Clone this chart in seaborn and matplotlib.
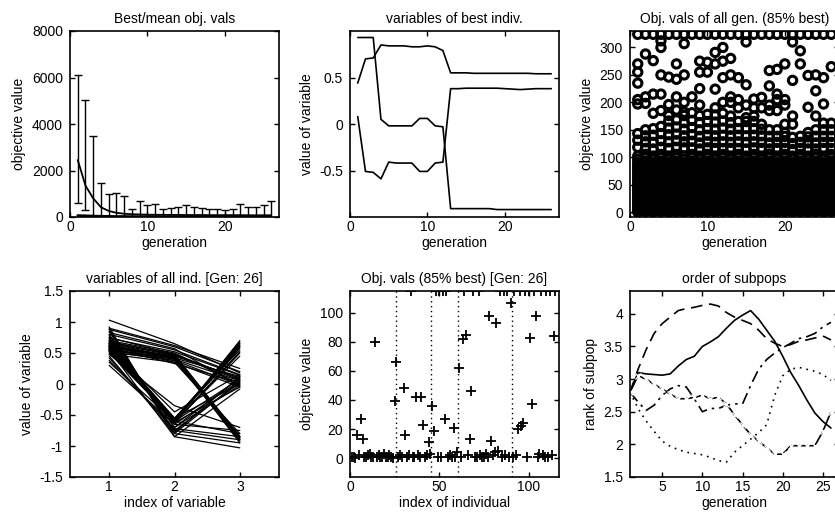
import matplotlib
matplotlib.use("Agg")
import matplotlib.pyplot as plt
import numpy as np
import pandas as pd
import seaborn as sns

# ---------------- data ----------------
generations = list(range(1, 27))

# Best/mean obj. vals
mean_obj = [2450, 1350, 800, 420, 260, 180, 140, 120, 110, 100, 95, 95, 90, 90, 85, 85, 85, 80, 80, 80, 80, 80, 75, 75, 75, 75]
best_obj = [60, 50, 40, 30, 25, 20, 20, 15, 15, 15, 15, 12, 12, 12, 10, 10, 10, 10, 10, 8, 8, 8, 8, 8, 8, 8]
err_top = [6100, 5050, 3500, 1450, 1000, 1050, 900, 350, 700, 500, 550, 350, 400, 450, 500, 450, 400, 350, 350, 300, 350, 550, 450, 450, 500, 700]
err_bottom = [600, 300, -900, -600, -500, -700, -600, -100, -500, -300, -350, -150, -200, -250, -300, -250, -200, -150, -150, -100, -150, -350, -250, -250, -300, -500]

# variables of best indiv.
best_var1 = [0.93, 0.93, 0.93, 0.05, -0.02, -0.02, -0.02, -0.02, 0.06, 0.06, -0.02, -0.03, -0.91, -0.91, -0.91, -0.91, -0.91, -0.91, -0.92, -0.92, -0.92, -0.92, -0.92, -0.92, -0.92, -0.92]
best_var2 = [0.44, 0.70, 0.71, 0.85, 0.84, 0.84, 0.84, 0.83, 0.83, 0.84, 0.83, 0.79, 0.55, 0.55, 0.55, 0.545, 0.545, 0.545, 0.545, 0.545, 0.545, 0.545, 0.545, 0.54, 0.54, 0.54]
best_var3 = [0.08, -0.51, -0.52, -0.59, -0.41, -0.42, -0.42, -0.42, -0.51, -0.51, -0.42, -0.41, 0.38, 0.38, 0.385, 0.385, 0.385, 0.385, 0.385, 0.38, 0.375, 0.37, 0.375, 0.38, 0.38, 0.38]

# Obj. vals of all gen. (85% best) - one list per generation
objv_all_gen = [
    [0, 3, 7, 11, 15, 19, 23, 27, 31, 35, 40, 44, 48, 52, 57, 61, 66, 70, 75, 80, 85, 90, 96, 102, 118, 131, 143, 197, 205, 235, 255, 270, 324],
    [1, 5, 9, 13, 17, 21, 25, 29, 33, 38, 42, 46, 50, 55, 59, 64, 68, 73, 78, 83, 88, 93, 99, 105, 116, 128, 139, 150, 198, 210, 288, 324],
    [0, 3, 7, 11, 15, 19, 23, 27, 31, 35, 40, 44, 48, 52, 57, 61, 66, 70, 75, 80, 85, 90, 96, 102, 115, 127, 140, 152, 180, 215, 276, 324],
    [1, 5, 9, 13, 17, 21, 25, 29, 33, 38, 42, 46, 50, 55, 59, 64, 68, 73, 78, 83, 88, 93, 99, 105, 118, 130, 143, 156, 185, 215, 250, 300, 312, 324],
    [0, 3, 7, 11, 15, 19, 23, 27, 31, 35, 40, 44, 48, 52, 57, 61, 66, 70, 75, 80, 85, 90, 96, 102, 116, 128, 141, 153, 166, 176, 196, 246, 324],
    [1, 5, 9, 13, 17, 21, 25, 29, 33, 38, 42, 46, 50, 55, 59, 64, 68, 73, 78, 83, 88, 93, 99, 105, 118, 130, 142, 155, 168, 186, 210, 242, 270, 324],
    [0, 3, 7, 11, 15, 19, 23, 27, 31, 35, 40, 44, 48, 52, 57, 61, 66, 70, 75, 80, 85, 90, 96, 102, 117, 128, 139, 151, 163, 176, 182, 200, 250, 307, 324],
    [1, 5, 9, 13, 17, 21, 25, 29, 33, 38, 42, 46, 50, 55, 59, 64, 68, 73, 78, 83, 88, 93, 99, 105, 117, 129, 141, 154, 167, 181, 210, 324],
    [0, 3, 7, 11, 15, 19, 23, 27, 31, 35, 40, 44, 48, 52, 57, 61, 66, 70, 75, 80, 85, 90, 96, 102, 115, 126, 138, 150, 163, 176, 195, 225, 255, 275, 324],
    [1, 5, 9, 13, 17, 21, 25, 29, 33, 38, 42, 46, 50, 55, 59, 64, 68, 73, 78, 83, 88, 93, 99, 105, 117, 128, 140, 152, 165, 178, 255, 273, 324],
    [0, 3, 7, 11, 15, 19, 23, 27, 31, 35, 40, 44, 48, 52, 57, 61, 66, 70, 75, 80, 85, 90, 96, 102, 116, 127, 139, 151, 164, 177, 190, 224, 270, 291, 324],
    [1, 5, 9, 13, 17, 21, 25, 29, 33, 38, 42, 46, 50, 55, 59, 64, 68, 73, 78, 83, 88, 93, 99, 105, 116, 128, 140, 153, 166, 180, 200, 245, 275, 300, 324],
    [0, 3, 7, 11, 15, 19, 23, 27, 31, 35, 40, 44, 48, 52, 57, 61, 66, 70, 75, 80, 85, 90, 96, 102, 116, 127, 139, 151, 163, 175, 200, 210, 250, 280, 324],
    [1, 5, 9, 13, 17, 21, 25, 29, 33, 38, 42, 46, 50, 55, 59, 64, 68, 73, 78, 83, 88, 93, 99, 105, 116, 128, 140, 152, 165, 190, 205, 245, 324],
    [0, 3, 7, 11, 15, 19, 23, 27, 31, 35, 40, 44, 48, 52, 57, 61, 66, 70, 75, 80, 85, 90, 96, 102, 115, 127, 139, 152, 165, 172, 195, 232, 310, 324],
    [1, 5, 9, 13, 17, 21, 25, 29, 33, 38, 42, 46, 50, 55, 59, 64, 68, 73, 78, 83, 88, 93, 99, 105, 117, 128, 140, 152, 165, 175, 190, 206, 324],
    [0, 3, 7, 11, 15, 19, 23, 27, 31, 35, 40, 44, 48, 52, 57, 61, 66, 70, 75, 80, 85, 90, 96, 102, 116, 127, 139, 151, 160, 190, 209, 324],
    [1, 5, 9, 13, 17, 21, 25, 29, 33, 38, 42, 46, 50, 55, 59, 64, 68, 73, 78, 83, 88, 93, 99, 105, 115, 126, 138, 150, 185, 195, 230, 258, 324],
    [0, 3, 7, 11, 15, 19, 23, 27, 31, 35, 40, 44, 48, 52, 57, 61, 66, 70, 75, 80, 85, 90, 96, 102, 116, 127, 138, 150, 185, 205, 215, 260, 324],
    [1, 5, 9, 13, 17, 21, 25, 29, 33, 38, 42, 46, 50, 55, 59, 64, 68, 73, 78, 83, 88, 93, 99, 105, 116, 127, 138, 145, 160, 195, 205, 270, 324],
    [0, 3, 7, 11, 15, 19, 23, 27, 31, 35, 40, 44, 48, 52, 57, 61, 66, 70, 75, 80, 85, 90, 96, 102, 114, 125, 136, 160, 175, 240, 310, 324],
    [1, 5, 9, 13, 17, 21, 25, 29, 33, 38, 42, 46, 50, 55, 59, 64, 68, 73, 78, 83, 88, 93, 99, 105, 116, 127, 138, 270, 294, 324],
    [0, 3, 7, 11, 15, 19, 23, 27, 31, 35, 40, 44, 48, 52, 57, 61, 66, 70, 75, 80, 85, 90, 96, 102, 115, 126, 137, 145, 191, 249, 324],
    [1, 5, 9, 13, 17, 21, 25, 29, 33, 38, 42, 46, 50, 55, 59, 64, 68, 73, 78, 83, 88, 93, 99, 105, 115, 126, 138, 150, 175, 221, 250, 324],
    [0, 3, 7, 11, 15, 19, 23, 27, 31, 35, 40, 44, 48, 52, 57, 61, 66, 70, 75, 80, 85, 90, 96, 102, 116, 127, 138, 150, 162, 197, 245, 324],
    [1, 5, 9, 13, 17, 21, 25, 29, 33, 38, 42, 46, 50, 55, 59, 64, 68, 73, 78, 83, 88, 93, 99, 105, 116, 127, 138, 150, 162, 265, 324],
]

# variables of all ind. [Gen: 26]
var_index = [1, 2, 3]
ind_var1 = [0.55, 0.62, 0.70, 0.80, 0.88, 0.48, 0.66, 0.75, 0.58, 0.90, 1.03, 0.52, 0.68, 0.74, 0.83,
            0.50, 0.55, 0.58, 0.60, 0.62, 0.65, 0.54, 0.57, 0.52, 0.56, 0.59, 0.61, 0.63,
            0.65, 0.72, 0.80, 0.88, 0.60, 0.75, 0.92, 0.70, 0.78, 0.85, 0.66,
            0.52, 0.56, 0.60, 0.64, 0.68, 0.58, 0.62, 0.54, 0.60, 0.66,
            0.30, 0.38, 0.45, 0.55, 0.35, 0.42, 0.48]
ind_var2 = [0.40, 0.45, 0.50, 0.55, 0.60, 0.35, 0.42, 0.48, 0.33, 0.62, 0.65, 0.38, 0.47, 0.52, 0.57,
            -0.58, -0.60, -0.62, -0.55, -0.60, -0.63, -0.57, -0.61, -0.59, -0.61, -0.56, -0.62, -0.58,
            -0.55, -0.62, -0.70, -0.80, -0.45, -0.75, -0.85, -0.65, -0.70, -0.78, -0.60,
            0.38, 0.42, 0.45, 0.40, 0.48, 0.44, 0.35, 0.41, 0.43, 0.46,
            -0.65, -0.72, -0.80, -0.85, -0.60, -0.75, -0.35]
ind_var3 = [0.05, 0.10, 0.00, 0.15, 0.20, -0.05, 0.12, 0.08, 0.02, 0.25, 0.18, -0.02, 0.06, 0.14, -0.04,
            0.60, 0.65, 0.70, 0.55, 0.68, 0.50, 0.62, 0.45, 0.58, 0.66, 0.63, 0.52, 0.60,
            0.00, -0.05, 0.10, 0.05, 0.15, 0.02, -0.08, 0.05, -0.02, 0.12, 0.08,
            -0.85, -0.88, -0.90, -0.92, -0.86, -0.95, -0.80, -0.87, -0.90, -0.84,
            -0.75, -0.85, -0.95, -1.03, -0.80, -0.90, -0.70]

# Obj. vals (85% best) [Gen: 26]
ind_objv = [0.5, 1, 0.3, 16, 2, 27, 13, 1, 0.5, 2, 3, 1, 0.5, 80, 1, 2, 0.5, 1, 3, 1,
            0.5, 2, 1, 0.3, 39, 66, 1, 2, 0.5, 48, 16, 1, 2, 115, 0.5, 1, 42, 2, 0.5, 42,
            23, 1, 2, 11, 3, 36, 19, 115, 1, 115, 0.5, 115, 27, 115, 1, 2, 0.5, 21, 1, 4,
            62, 1, 82, 115, 85, 2, 13, 46, 115, 1, 0.5, 115, 2, 1, 0.5, 3, 1, 98, 12, 2,
            4, 93, 5, 115, 1, 115, 2, 115, 0.5, 107, 1, 115, 2, 20, 115, 22, 24, 115, 1, 115,
            83, 37, 115, 98, 1, 3, 115, 2, 1, 115, 0.5, 115, 2, 84, 115]
subpop_bounds = [25.5, 45.5, 60.5, 90.5]

# order of subpops
rank_solid = [2.8, 3.1, 3.08, 3.07, 3.06, 3.08, 3.2, 3.3, 3.35, 3.5, 3.57, 3.65, 3.78, 3.9, 3.98, 4.05, 3.92, 3.75, 3.58, 3.35, 3.1, 2.9, 2.68, 2.48, 2.35, 2.25]
rank_dashed = [2.8, 3.15, 3.45, 3.7, 3.85, 3.95, 4.05, 4.08, 4.1, 4.13, 4.15, 4.12, 4.02, 3.95, 3.9, 3.85, 3.75, 3.62, 3.55, 3.5, 3.53, 3.58, 3.6, 3.63, 3.66, 3.6]
rank_dotted = [2.8, 2.55, 2.36, 2.2, 2.05, 1.97, 1.92, 1.88, 1.86, 1.84, 1.8, 1.75, 1.73, 1.88, 1.98, 2.08, 2.18, 2.3, 2.75, 3.05, 3.15, 3.18, 3.15, 3.12, 3.07, 2.98]
rank_dashdot = [2.8, 2.65, 2.52, 2.6, 2.75, 2.85, 2.9, 2.88, 2.7, 2.5, 2.55, 2.55, 2.6, 2.62, 2.62, 2.9, 3.15, 3.3, 3.4, 3.48, 3.55, 3.62, 3.65, 3.7, 3.8, 3.87]
rank_xmark = [2.8, 3.05, 3.0, 2.92, 2.85, 2.77, 2.7, 2.7, 2.72, 2.75, 2.7, 2.72, 2.62, 2.45, 2.3, 2.15, 2.05, 1.95, 1.85, 1.85, 1.98, 1.98, 1.98, 1.98, 2.2, 2.5]

# ---------------- style ----------------
sns.set_theme(style="ticks")
plt.rcParams['font.family'] = ['Liberation Sans', 'DejaVu Sans']
plt.rcParams.update({
    'font.size': 10,
    'axes.linewidth': 1.2,
    'axes.edgecolor': 'black',
    'xtick.direction': 'in', 'ytick.direction': 'in',
    'xtick.top': True, 'ytick.right': True,
    'xtick.major.size': 3.5, 'ytick.major.size': 3.5,
    'xtick.major.width': 1.0, 'ytick.major.width': 1.0,
    'xtick.labelsize': 10, 'ytick.labelsize': 10,
    'xtick.major.pad': 2.5, 'ytick.major.pad': 5,
    'axes.titlesize': 10, 'axes.labelsize': 10,
    'axes.titlepad': 6,
    'text.color': 'black', 'xtick.color': 'black', 'ytick.color': 'black',
    'axes.labelcolor': 'black',
})

W, H = 835, 513
fig = plt.figure(figsize=(W / 100, H / 100), dpi=100)


def add_ax(x0, y_top, w=209, h=186):
    return fig.add_axes([x0 / W, (H - y_top - h) / H, w / W, h / H])


ax1 = add_ax(70, 31)
ax2 = add_ax(350, 31)
ax3 = add_ax(630, 31)
ax4 = add_ax(70, 291)
ax5 = add_ax(350, 291)
ax6 = add_ax(630, 291)

# --- 1: Best/mean obj vals
df1 = pd.DataFrame({'generation': generations, 'mean': mean_obj, 'best': best_obj})
yerr = [np.array(mean_obj) - np.array(err_bottom), np.array(err_top) - np.array(mean_obj)]
ax1.errorbar(generations, mean_obj, yerr=yerr, fmt='none', ecolor='black', elinewidth=1.0, capsize=3, capthick=1.0)
sns.lineplot(data=df1, x='generation', y='mean', color='black', lw=1.3, ax=ax1)
sns.lineplot(data=df1, x='generation', y='best', color='black', lw=2.0, ax=ax1)
ax1.set_xlim(0, 27)
ax1.set_ylim(0, 8000)
ax1.set_yticks([0, 2000, 4000, 6000, 8000])
ax1.set_xticks([0, 10, 20])
ax1.set_title('Best/mean obj. vals')
ax1.set_xlabel('generation')
ax1.set_ylabel('objective value')

# --- 2: variables of best indiv.
df2 = pd.DataFrame({'generation': generations * 3,
                    'value': best_var1 + best_var2 + best_var3,
                    'var': ['v1'] * 26 + ['v2'] * 26 + ['v3'] * 26})
sns.lineplot(data=df2, x='generation', y='value', units='var', estimator=None, color='black', lw=1.2, ax=ax2)
ax2.set_xlim(0, 27)
ax2.set_ylim(-1, 1)
ax2.set_yticks([-0.5, 0, 0.5])
ax2.set_yticklabels(['-0.5', '0', '0.5'])
ax2.set_xticks([0, 10, 20])
ax2.set_title('variables of best indiv.')
ax2.set_xlabel('generation')
ax2.set_ylabel('value of variable')

# --- 3: Obj vals of all gen
gx, gy = [], []
for g, vals in zip(generations, objv_all_gen):
    gx += [g] * len(vals)
    gy += vals
df3 = pd.DataFrame({'generation': gx, 'objv': gy})
sns.scatterplot(data=df3, x='generation', y='objv', marker='o', s=36, facecolor='none',
                edgecolor='black', linewidth=2.2, ax=ax3)
ax3.set_xlim(0, 27)
ax3.set_ylim(-9, 330)
ax3.set_yticks([0, 50, 100, 150, 200, 250, 300])
ax3.set_xticks([0, 10, 20])
ax3.set_title('Obj. vals of all gen. (85% best)')
ax3.set_xlabel('generation')
ax3.set_ylabel('objective value')

# --- 4: variables of all ind.
n_ind = len(ind_var1)
df4 = pd.DataFrame({'index': var_index * n_ind,
                    'value': [v for trip in zip(ind_var1, ind_var2, ind_var3) for v in trip],
                    'ind': [i for i in range(n_ind) for _ in range(3)]})
sns.lineplot(data=df4, x='index', y='value', units='ind', estimator=None, color='black', lw=0.9, ax=ax4)
ax4.set_xlim(0.4, 3.6)
ax4.set_ylim(-1.5, 1.5)
ax4.set_xticks([1, 2, 3])
ax4.set_yticks([-1.5, -1, -0.5, 0, 0.5, 1, 1.5])
ax4.set_yticklabels(['-1.5', '-1', '-0.5', '0', '0.5', '1', '1.5'])
ax4.set_title('variables of all ind. [Gen: 26]')
ax4.set_xlabel('index of variable')
ax4.set_ylabel('value of variable')

# --- 5: Obj vals 85% best, Gen 26
df5 = pd.DataFrame({'index': list(range(1, len(ind_objv) + 1)), 'objv': ind_objv})
for b in subpop_bounds:
    ax5.axvline(b, color='black', lw=1.0, ls=(0, (1, 2.5)))
sns.scatterplot(data=df5, x='index', y='objv', marker='+', s=55, color='black', linewidth=1.3, ax=ax5)
ax5.set_xlim(0, 117)
ax5.set_ylim(-13, 115)
ax5.set_xticks([0, 50, 100])
ax5.set_yticks([0, 20, 40, 60, 80, 100])
ax5.set_title('Obj. vals (85% best) [Gen: 26]')
ax5.set_xlabel('index of individual')
ax5.set_ylabel('objective value')

# --- 6: order of subpops
styles = [('-', None, rank_solid), ((0, (7, 4)), None, rank_dashed), ((0, (1, 3)), None, rank_dotted),
          ((0, (7, 3, 1.5, 3)), None, rank_dashdot), ('-', 'x', rank_xmark)]
for ls, mk, vals in styles:
    d = pd.DataFrame({'generation': generations, 'rank': vals})
    sns.lineplot(data=d, x='generation', y='rank', color='black', lw=1.2, linestyle=ls,
                 marker=mk, markersize=4.5, markeredgewidth=1.0, ax=ax6)
ax6.set_xlim(1, 27)
ax6.set_ylim(1.5, 4.35)
ax6.set_xticks([5, 10, 15, 20, 25])
ax6.set_yticks([1.5, 2, 2.5, 3, 3.5, 4])
ax6.set_yticklabels(['1.5', '2', '2.5', '3', '3.5', '4'])
ax6.set_title('order of subpops')
ax6.set_xlabel('generation')
ax6.set_ylabel('rank of subpop')

for ax in [ax1, ax2, ax3, ax4, ax5, ax6]:
    for s in ax.spines.values():
        s.set_visible(True)
        s.set_color('black')
    ax.xaxis.labelpad = 1
    ax.yaxis.labelpad = 4

fig.savefig('out.png', dpi=100)
